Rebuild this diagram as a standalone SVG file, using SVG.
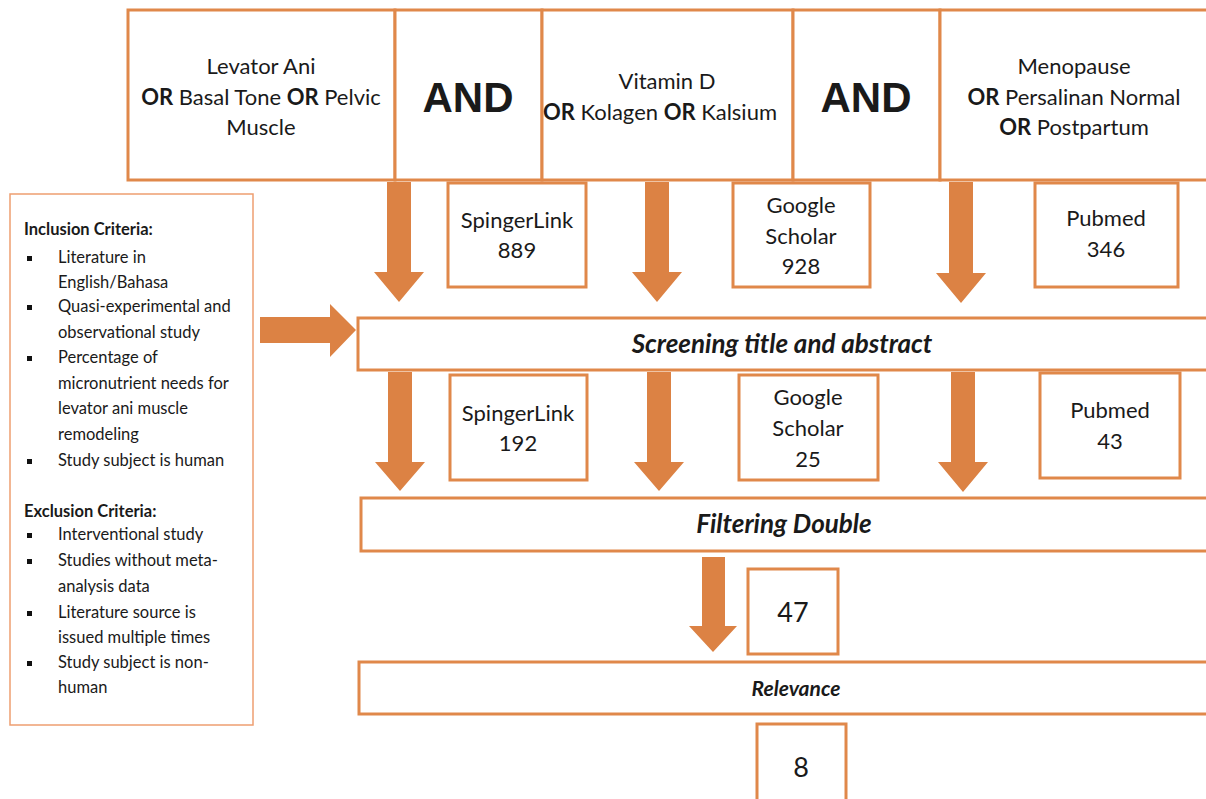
<svg xmlns="http://www.w3.org/2000/svg" width="1206" height="799" viewBox="0 0 1206 799">
<style>
.box{fill:#fff;stroke:#E0884A;stroke-width:3}
.thin{fill:#fff;stroke:#EE9E70;stroke-width:1.5}
.arr{fill:#DC8244}
text{font-family:Lato,"Open Sans","Liberation Sans",sans-serif;fill:#1a1a1a}
.t{font-size:22px;text-anchor:middle}
.and{font-size:42px;font-weight:bold;text-anchor:middle;font-family:"Liberation Sans",Arial,sans-serif}
.stage{font-size:26px;font-weight:bold;font-style:italic;text-anchor:middle}
.rel{font-size:21px}
.num{font-size:27px;text-anchor:middle}
.crit{font-size:16.5px}
.b{font-weight:bold}
.bul{fill:#111}
</style>
<rect width="1206" height="799" fill="#fff"/>
<g id="top-levator"><rect class="box" x="128" y="10" width="267" height="170"/>
<text class="t" x="261" y="74">Levator Ani</text>
<text class="t" x="261" y="105"><tspan class="b">OR</tspan> Basal Tone <tspan class="b">OR</tspan> Pelvic</text>
<text class="t" x="261" y="135">Muscle</text></g>
<g id="top-and1"><rect class="box" x="395" y="10" width="147" height="170"/>
<text class="and" x="468" y="112">AND</text></g>
<g id="top-vitamin"><rect class="box" x="542" y="10" width="251" height="170"/>
<text class="t" x="667" y="89">Vitamin D</text>
<text class="t" x="660" y="120"><tspan class="b">OR</tspan> Kolagen <tspan class="b">OR</tspan> Kalsium</text></g>
<g id="top-and2"><rect class="box" x="793" y="10" width="147" height="170"/>
<text class="and" x="866" y="112">AND</text></g>
<g id="top-menopause"><rect class="box" x="940" y="10" width="275" height="170"/>
<text class="t" x="1074" y="74">Menopause</text>
<text class="t" x="1074" y="105"><tspan class="b">OR</tspan> Persalinan Normal</text>
<text class="t" x="1074" y="135"><tspan class="b">OR</tspan> Postpartum</text></g>

<g id="criteria"><rect class="thin" x="10" y="194" width="243" height="531"/>
<text class="crit b" x="24" y="235">Inclusion Criteria:</text>
<rect class="bul" x="27" y="256" width="5" height="5"/>
<text class="crit" x="58" y="263">Literature in</text>
<text class="crit" x="58" y="288">English/Bahasa</text>
<rect class="bul" x="27" y="305" width="5" height="5"/>
<text class="crit" x="58" y="312">Quasi-experimental and</text>
<text class="crit" x="58" y="338">observational study</text>
<rect class="bul" x="27" y="356" width="5" height="5"/>
<text class="crit" x="58" y="363">Percentage of</text>
<text class="crit" x="58" y="389">micronutrient needs for</text>
<text class="crit" x="58" y="414">levator ani muscle</text>
<text class="crit" x="58" y="440">remodeling</text>
<rect class="bul" x="27" y="459" width="5" height="5"/>
<text class="crit" x="58" y="466">Study subject is human</text>
<text class="crit b" x="24" y="517">Exclusion Criteria:</text>
<rect class="bul" x="27" y="533" width="5" height="5"/>
<text class="crit" x="58" y="540">Interventional study</text>
<rect class="bul" x="27" y="559" width="5" height="5"/>
<text class="crit" x="58" y="566">Studies without meta-</text>
<text class="crit" x="58" y="592">analysis data</text>
<rect class="bul" x="27" y="611" width="5" height="5"/>
<text class="crit" x="58" y="618">Literature source is</text>
<text class="crit" x="58" y="643">issued multiple times</text>
<rect class="bul" x="27" y="661" width="5" height="5"/>
<text class="crit" x="58" y="668">Study subject is non-</text>
<text class="crit" x="58" y="693">human</text></g>

<g id="src1-springer"><rect class="box" x="448" y="183" width="138" height="104"/>
<text class="t" x="517" y="228">SpingerLink</text><text class="t" x="517" y="258">889</text></g>
<g id="src1-google"><rect class="box" x="733" y="183" width="137" height="104"/>
<text class="t" x="801" y="213">Google</text><text class="t" x="801" y="244">Scholar</text><text class="t" x="801" y="274">928</text></g>
<g id="src1-pubmed"><rect class="box" x="1035" y="183" width="143" height="104"/>
<text class="t" x="1106" y="226">Pubmed</text><text class="t" x="1106" y="257">346</text></g>

<g id="screening"><rect class="box" x="358" y="318" width="855" height="52"/>
<text class="stage" x="782" y="353">Screening title and abstract</text></g>

<g id="src2-springer"><rect class="box" x="450" y="375" width="137" height="105"/>
<text class="t" x="518" y="421">SpingerLink</text><text class="t" x="518" y="451">192</text></g>
<g id="src2-google"><rect class="box" x="739" y="375" width="139" height="105"/>
<text class="t" x="808" y="405">Google</text><text class="t" x="808" y="436">Scholar</text><text class="t" x="808" y="467">25</text></g>
<g id="src2-pubmed"><rect class="box" x="1040" y="373" width="140" height="105"/>
<text class="t" x="1110" y="418">Pubmed</text><text class="t" x="1110" y="449">43</text></g>

<g id="filtering"><rect class="box" x="361" y="498" width="852" height="53"/>
<text class="stage" x="784" y="533">Filtering Double</text></g>

<g id="n47"><rect class="box" x="748" y="569" width="90" height="85"/>
<text class="num" x="793" y="622">47</text></g>

<g id="relevance"><rect class="box" x="359" y="662" width="854" height="52"/>
<text class="stage rel" x="796" y="696">Relevance</text></g>

<g id="n8"><rect class="box" x="757" y="724" width="89" height="90"/>
<text class="num" x="801" y="777">8</text></g>

<g id="connectors">
<polygon class="arr" points="260,317 330,317 330,304 356,330 330,357 330,343 260,343"/>
<polygon class="arr" points="387,182 411,182 411,272 424,272 399,302 374,272 387,272"/>
<polygon class="arr" points="645,182 669,182 669,272 682,272 657,302 632,272 645,272"/>
<polygon class="arr" points="949,182 973,182 973,273 986,273 961,303 936,273 949,273"/>
<polygon class="arr" points="388,372 412,372 412,462 425,462 400,491 375,462 388,462"/>
<polygon class="arr" points="647,372 671,372 671,462 684,462 659,491 634,462 647,462"/>
<polygon class="arr" points="951,372 975,372 975,462 988,462 963,492 938,462 951,462"/>
<polygon class="arr" points="702,557 725,557 725,626 737,626 713,652 689,626 702,626"/>
</g>
</svg>
